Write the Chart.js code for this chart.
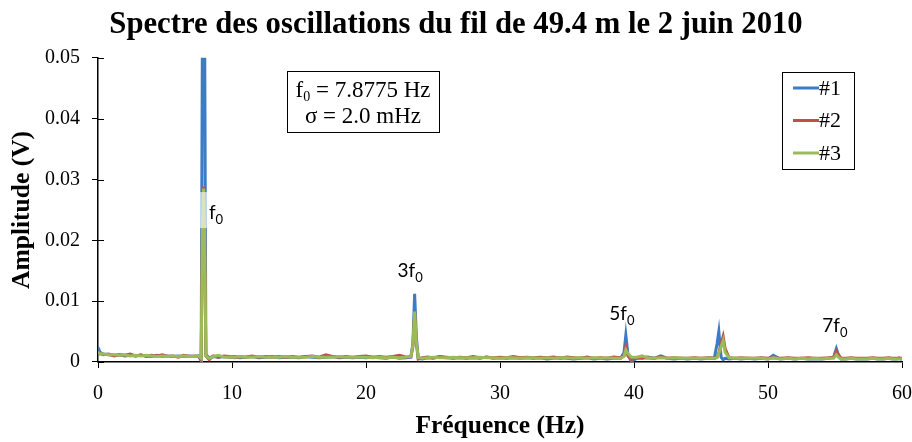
<!DOCTYPE html>
<html>
<head>
<meta charset="utf-8">
<script src="https://cdn.jsdelivr.net/npm/chart.js@4/dist/chart.umd.min.js"></script>
<style>
  html, body { margin: 0; padding: 0; background: #fff; }
  #wrap { width: 912px; height: 442px; }
</style>
</head>
<body>
<div id="wrap"><canvas id="spectre"></canvas></div>
<script>
// Fréquences (Hz) - grille commune aux trois mesures
const frequences = [
  0, 0.15, 0.4, 0.8, 1.2, 1.6, 2.0, 2.4, 2.8, 3.2,
  3.6, 4.0, 4.4, 4.8, 5.2, 5.6, 6.0, 6.4, 6.8, 7.2,
  7.5, 7.7, 7.8, 7.8775, 7.95, 8.05, 8.3, 8.6, 9.0, 9.4,
  9.8, 10.2, 10.6, 11.0, 11.5, 12.0, 12.5, 13.0, 13.5, 14.0,
  14.5, 15.0, 15.5, 16.0, 16.5, 17.0, 17.5, 18.0, 18.5, 19.0,
  19.5, 20.0, 20.5, 21.0, 21.5, 22.0, 22.5, 23.0, 23.35, 23.5,
  23.63, 23.76, 23.9, 24.2, 24.6, 25.0, 25.5, 26.0, 26.5, 27.0,
  27.5, 28.0, 28.5, 29.0, 29.5, 30.0, 30.5, 31.0, 31.5, 32.0,
  32.5, 33.0, 33.5, 34.0, 34.5, 35.0, 35.5, 36.0, 36.5, 37.0,
  37.5, 38.0, 38.5, 39.0, 39.25, 39.39, 39.55, 39.8, 40.2, 40.6,
  41.0, 41.5, 42.0, 42.5, 43.0, 43.5, 44.0, 44.5, 45.0, 45.5,
  46.0, 46.2, 46.33, 46.5, 46.65, 46.8, 47.1, 47.5, 48.0, 48.5,
  49.0, 49.5, 50.0, 50.4, 50.9, 51.5, 52.0, 52.5, 53.0, 53.5,
  54.0, 54.5, 54.9, 55.1, 55.25, 55.45, 55.8, 56.2, 56.6, 57.0,
  57.4, 57.8, 58.2, 58.6, 59.0, 59.3, 59.6, 59.8, 59.9, 60.0
];

// Amplitudes (V) - mesure #1
const mesure1 = [
  0.0024, 0.0016, 0.0013, 0.0012, 0.0011, 0.0012, 0.0010, 0.0011, 0.0010, 0.0011,
  0.0010, 0.0009, 0.0011, 0.0009, 0.0010, 0.0009, 0.0010, 0.0009, 0.0010, 0.0009,
  0.0010, 0.0002, 0.0600, 0.0700, 0.0600, 0.0012, 0.0007, 0.0009, 0.0008, 0.0009,
  0.0008, 0.0009, 0.0007, 0.0008, 0.0009, 0.0007, 0.0008, 0.0009, 0.0007, 0.0008,
  0.0008, 0.0007, 0.0009, 0.0008, 0.0007, 0.0008, 0.0009, 0.0007, 0.0008, 0.0007,
  0.0008, 0.0007, 0.0008, 0.0007, 0.0006, 0.0008, 0.0006, 0.0007, 0.0008, 0.0030,
  0.0112, 0.0040, 0.0006, 0.0005, 0.0007, 0.0006, 0.0008, 0.0007, 0.0006, 0.0007,
  0.0006, 0.0007, 0.0006, 0.0008, 0.0006, 0.0007, 0.0006, 0.0007, 0.0006, 0.0007,
  0.0006, 0.0007, 0.0005, 0.0006, 0.0007, 0.0006, 0.0005, 0.0006, 0.0007, 0.0005,
  0.0006, 0.0005, 0.0006, 0.0006, 0.0015, 0.0044, 0.0012, 0.0001, 0.0006, 0.0007,
  0.0008, 0.0006, 0.0010, 0.0006, 0.0005, 0.0006, 0.0005, 0.0006, 0.0005, 0.0006,
  0.0007, 0.0030, 0.0050, 0.0008, 0.0004, 0.0006, 0.0005, 0.0006, 0.0005, 0.0006,
  0.0005, 0.0006, 0.0005, 0.0011, 0.0005, 0.0006, 0.0005, 0.0006, 0.0005, 0.0005,
  0.0005, 0.0006, 0.0008, 0.0022, 0.0012, 0.0005, 0.0005, 0.0006, 0.0005, 0.0005,
  0.0005, 0.0006, 0.0005, 0.0005, 0.0006, 0.0005, 0.0005, 0.0006, 0.0005, 0.0005
];

// Amplitudes (V) - mesure #2
const mesure2 = [
  0.0012, 0.0014, 0.0012, 0.0013, 0.0010, 0.0012, 0.0011, 0.0013, 0.0010, 0.0012,
  0.0009, 0.0011, 0.0010, 0.0012, 0.0009, 0.0010, 0.0008, 0.0011, 0.0009, 0.0010,
  0.0009, 0.0004, 0.0240, 0.0288, 0.0230, 0.0010, 0.0004, 0.0010, 0.0008, 0.0010,
  0.0009, 0.0007, 0.0009, 0.0008, 0.0010, 0.0008, 0.0009, 0.0008, 0.0009, 0.0008,
  0.0009, 0.0008, 0.0009, 0.0010, 0.0008, 0.0012, 0.0009, 0.0008, 0.0009, 0.0008,
  0.0009, 0.0010, 0.0008, 0.0009, 0.0008, 0.0009, 0.0011, 0.0008, 0.0009, 0.0025,
  0.0082, 0.0030, 0.0005, 0.0007, 0.0008, 0.0007, 0.0009, 0.0008, 0.0007, 0.0008,
  0.0007, 0.0009, 0.0007, 0.0008, 0.0007, 0.0008, 0.0007, 0.0009, 0.0007, 0.0008,
  0.0007, 0.0008, 0.0007, 0.0008, 0.0006, 0.0008, 0.0007, 0.0006, 0.0008, 0.0006,
  0.0007, 0.0006, 0.0008, 0.0007, 0.0010, 0.0025, 0.0010, 0.0004, 0.0007, 0.0006,
  0.0007, 0.0006, 0.0009, 0.0006, 0.0007, 0.0006, 0.0006, 0.0007, 0.0006, 0.0007,
  0.0006, 0.0008, 0.0015, 0.0030, 0.0042, 0.0022, 0.0007, 0.0006, 0.0007, 0.0006,
  0.0006, 0.0007, 0.0006, 0.0007, 0.0006, 0.0007, 0.0006, 0.0006, 0.0007, 0.0006,
  0.0006, 0.0007, 0.0008, 0.0018, 0.0012, 0.0006, 0.0006, 0.0007, 0.0006, 0.0006,
  0.0006, 0.0007, 0.0006, 0.0006, 0.0007, 0.0006, 0.0006, 0.0007, 0.0006, 0.0006
];

// Amplitudes (V) - mesure #3
const mesure3 = [
  0.0016, 0.0014, 0.0013, 0.0012, 0.0012, 0.0011, 0.0012, 0.0010, 0.0011, 0.0010,
  0.0011, 0.0010, 0.0009, 0.0010, 0.0009, 0.0010, 0.0009, 0.0010, 0.0009, 0.0009,
  0.0010, 0.0006, 0.0235, 0.0285, 0.0225, 0.0010, 0.0006, 0.0009, 0.0011, 0.0008,
  0.0008, 0.0008, 0.0009, 0.0008, 0.0008, 0.0009, 0.0008, 0.0008, 0.0008, 0.0009,
  0.0008, 0.0008, 0.0008, 0.0009, 0.0008, 0.0008, 0.0008, 0.0009, 0.0008, 0.0008,
  0.0008, 0.0008, 0.0007, 0.0008, 0.0007, 0.0008, 0.0007, 0.0008, 0.0009, 0.0028,
  0.0083, 0.0032, 0.0007, 0.0006, 0.0007, 0.0008, 0.0007, 0.0007, 0.0008, 0.0007,
  0.0007, 0.0007, 0.0008, 0.0007, 0.0007, 0.0006, 0.0007, 0.0007, 0.0006, 0.0007,
  0.0007, 0.0006, 0.0007, 0.0006, 0.0007, 0.0007, 0.0006, 0.0007, 0.0006, 0.0007,
  0.0006, 0.0007, 0.0006, 0.0006, 0.0009, 0.0020, 0.0014, 0.0008, 0.0008, 0.0010,
  0.0007, 0.0006, 0.0007, 0.0006, 0.0007, 0.0006, 0.0006, 0.0006, 0.0006, 0.0006,
  0.0006, 0.0007, 0.0014, 0.0025, 0.0035, 0.0016, 0.0007, 0.0006, 0.0006, 0.0006,
  0.0006, 0.0006, 0.0005, 0.0007, 0.0005, 0.0006, 0.0005, 0.0006, 0.0005, 0.0006,
  0.0005, 0.0006, 0.0006, 0.0012, 0.0008, 0.0005, 0.0005, 0.0006, 0.0005, 0.0005,
  0.0005, 0.0006, 0.0005, 0.0005, 0.0006, 0.0005, 0.0005, 0.0005, 0.0005, 0.0005
];

const nomsMesures = ['#1', '#2', '#3'];
const couleurs = ['#3B7CC4', '#C0504D', '#9BBB59'];

// Étiquettes des harmoniques : [texte, indice, fréquence, amplitude]
const harmoniques = [
  ['f', '0', 8.28, 0.0235],
  ['3f', '0', 22.35, 0.0140],
  ['5f', '0', 38.15, 0.0069],
  ['7f', '0', 54.05, 0.0049]
];

const serif = '"Liberation Serif", "Times New Roman", serif';
const sans = 'Lato, "Open Sans", sans-serif';

function points(valeurs) {
  return frequences.map((f, i) => ({ x: f, y: valeurs[i] }));
}

// Plugin : légende, encadré f0 / sigma, étiquettes des pics
const decorations = {
  id: 'decorations',
  afterDraw(chart) {
    const ctx = chart.ctx;
    const xs = chart.scales.x, ys = chart.scales.y;
    ctx.save();

    // petits traits de graduation vers l'intérieur (axe y)
    ctx.strokeStyle = '#000';
    ctx.lineWidth = 1;
    ys.ticks.forEach(t => {
      const py = Math.round(ys.getPixelForValue(t.value)) + 0.5;
      ctx.beginPath();
      ctx.moveTo(xs.left, py);
      ctx.lineTo(xs.left + 6, py);
      ctx.stroke();
    });

    // étiquettes des pics
    harmoniques.forEach(([txt, sub, f, a], i) => {
      const px = xs.getPixelForValue(f);
      const py = ys.getPixelForValue(a);
      ctx.font = '19px ' + sans;
      const w = ctx.measureText(txt).width;
      ctx.font = '13px ' + sans;
      const ws = ctx.measureText(sub).width;
      if (i === 0) {
        ctx.fillStyle = 'rgba(255,255,255,0.6)';
        ctx.fillRect(px - 9, py - 27, w + ws + 14, 36);
      }
      ctx.fillStyle = '#000';
      ctx.textBaseline = 'alphabetic';
      ctx.textAlign = 'left';
      ctx.font = '19px ' + sans;
      ctx.fillText(txt, px, py);
      ctx.font = '13px ' + sans;
      ctx.fillText(sub, px + w, py + 5);
    });

    // encadré f0 = ..., sigma = ...
    const bx = 287, by = 71, bw = 152, bh = 61;
    ctx.fillStyle = '#fff';
    ctx.fillRect(bx, by, bw, bh);
    ctx.strokeStyle = '#000';
    ctx.lineWidth = 1;
    ctx.strokeRect(bx + 0.5, by + 0.5, bw, bh);
    ctx.fillStyle = '#000';
    ctx.font = '23px ' + serif;
    const l1a = 'f', l1b = '0', l1c = ' = 7.8775 Hz';
    const wa = ctx.measureText(l1a).width;
    const wc = ctx.measureText(l1c).width;
    ctx.font = '14px ' + serif;
    const wb = ctx.measureText(l1b).width;
    let sx = bx + bw / 2 - (wa + wb + wc) / 2;
    ctx.font = '23px ' + serif;
    ctx.fillText(l1a, sx, 97);
    ctx.font = '14px ' + serif;
    ctx.fillText(l1b, sx + wa, 101);
    ctx.font = '23px ' + serif;
    ctx.fillText(l1c, sx + wa + wb, 97);
    ctx.textAlign = 'center';
    ctx.fillText('σ = 2.0 mHz', bx + bw / 2, 123);

    // légende
    const lx = 782, ly = 72, lw = 72, lh = 97;
    ctx.fillStyle = '#fff';
    ctx.fillRect(lx, ly, lw, lh);
    ctx.strokeRect(lx + 0.5, ly + 0.5, lw, lh);
    ctx.textAlign = 'left';
    ctx.textBaseline = 'middle';
    ctx.font = '22px ' + serif;
    nomsMesures.forEach((nom, i) => {
      const yy = 88 + i * 32.5;
      ctx.strokeStyle = couleurs[i];
      ctx.lineWidth = 3;
      ctx.beginPath();
      ctx.moveTo(793, yy);
      ctx.lineTo(819, yy);
      ctx.stroke();
      ctx.fillStyle = '#000';
      ctx.fillText(nom, 819, yy + 1);
    });

    ctx.restore();
  }
};

new Chart(document.getElementById('spectre').getContext('2d'), {
  type: 'scatter',
  data: {
    datasets: [mesure1, mesure2, mesure3].map((m, i) => ({
      label: nomsMesures[i],
      data: points(m),
      showLine: true,
      borderColor: couleurs[i],
      backgroundColor: couleurs[i],
      borderWidth: 3,
      pointRadius: 0,
      tension: 0,
      order: 3 - i
    }))
  },
  options: {
    responsive: true,
    maintainAspectRatio: false,
    animation: false,
    layout: { padding: { left: 0, right: 0, top: 0, bottom: 0 } },
    plugins: {
      legend: { display: false },
      tooltip: { enabled: false },
      title: {
        display: true,
        text: 'Spectre des oscillations du fil de 49.4 m le 2 juin 2010',
        color: '#000',
        font: { family: serif, size: 30.7, weight: 'bold' },
        padding: { top: 7, bottom: 14 }
      }
    },
    scales: {
      x: {
        type: 'linear',
        min: 0,
        max: 60,
        afterFit: s => { s.height = 80; s.paddingRight = 10; s.paddingLeft = 4; },
        ticks: {
          stepSize: 10,
          color: '#000',
          padding: 14,
          maxRotation: 0,
          font: { family: serif, size: 20 }
        },
        grid: { drawOnChartArea: false, color: '#000', tickLength: 6 },
        border: { color: '#000', width: 1.5 },
        title: {
          display: true,
          text: 'Fréquence (Hz)',
          color: '#000',
          font: { family: serif, size: 25.5, weight: 'bold' },
          padding: { top: -6, bottom: 0 }
        }
      },
      y: {
        min: 0,
        max: 0.05,
        afterFit: s => { s.width = 98; },
        ticks: {
          stepSize: 0.01,
          color: '#000',
          padding: 12,
          font: { family: serif, size: 20 },
          callback: v => (Math.abs(v) < 1e-9 ? '0' : v.toFixed(2))
        },
        grid: { drawOnChartArea: false, color: '#000', tickLength: 6 },
        border: { color: '#000', width: 1.5 },
        title: {
          display: true,
          text: 'Amplitude (V)',
          color: '#000',
          font: { family: serif, size: 25.5, weight: 'bold' },
          padding: { top: 7, bottom: 0 }
        }
      }
    }
  },
  plugins: [decorations]
});
</script>
</body>
</html>
